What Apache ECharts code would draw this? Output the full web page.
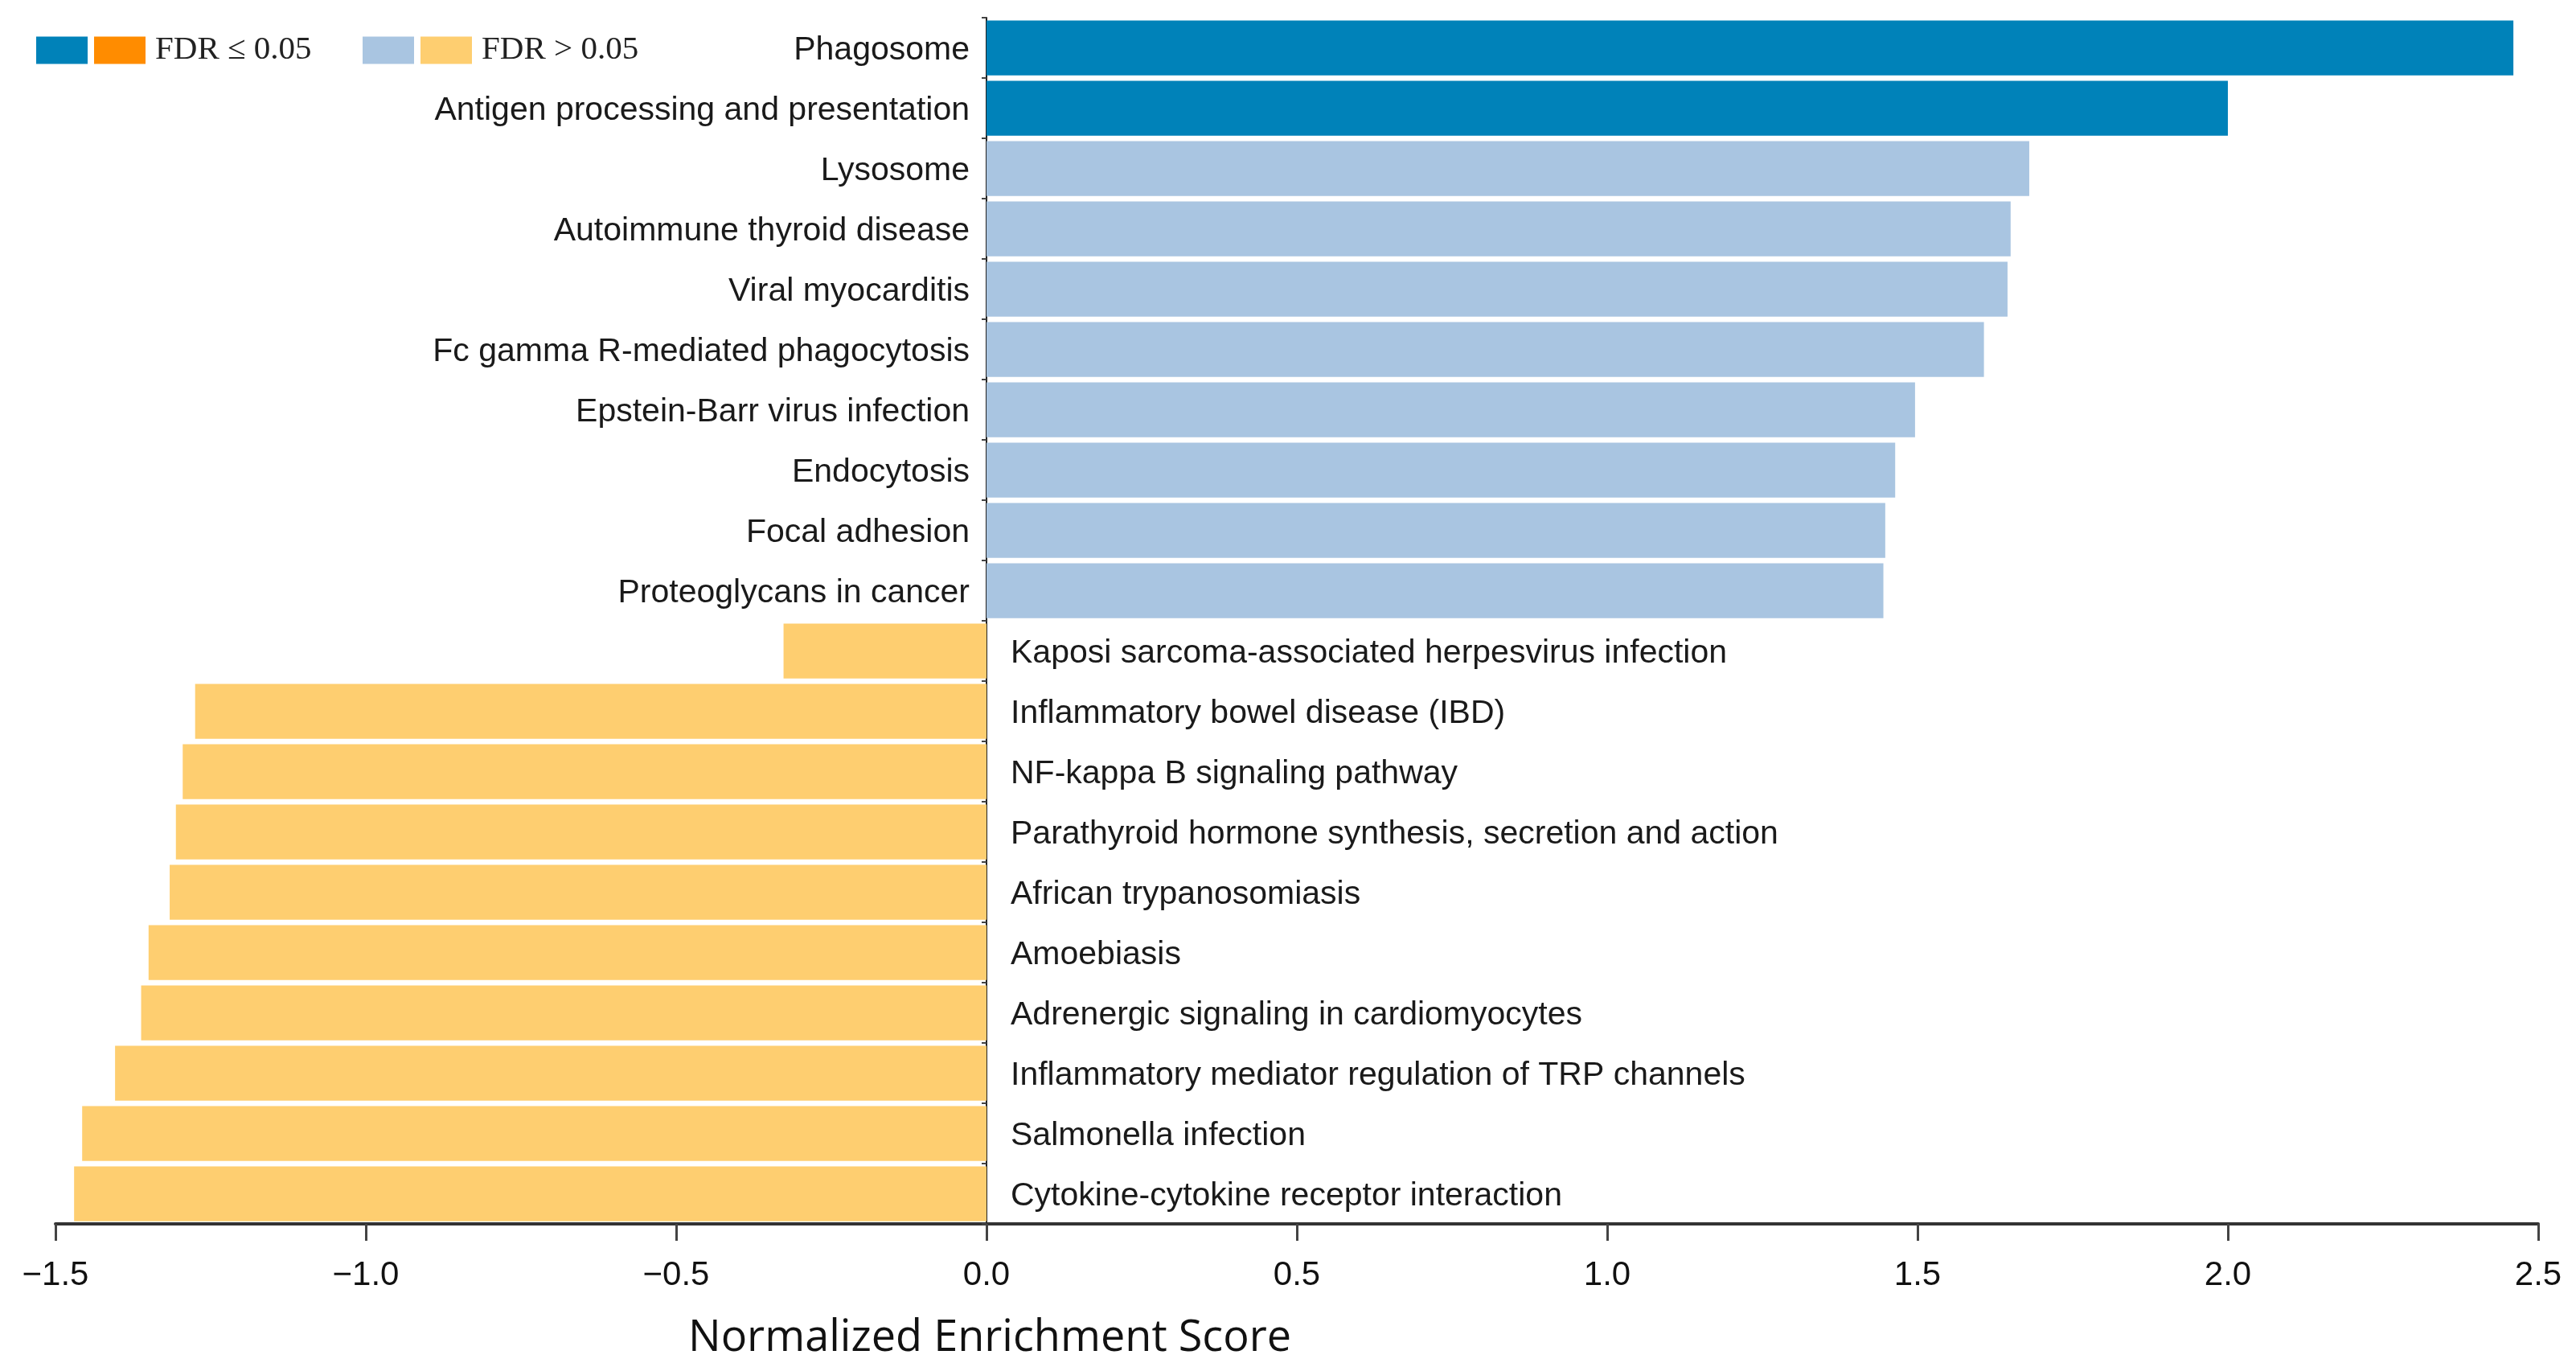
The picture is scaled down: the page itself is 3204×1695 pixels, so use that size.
<!DOCTYPE html>
<html>
<head>
<meta charset="utf-8">
<script src="https://cdn.jsdelivr.net/npm/echarts@6/dist/echarts.min.js"></script>
<style>
html,body{margin:0;padding:0;background:#fff;}
#chart{width:3204px;height:1695px;}
</style>
</head>
<body>
<div id="chart"></div>
<script>
const categories = [
  "Phagosome",
  "Antigen processing and presentation",
  "Lysosome",
  "Autoimmune thyroid disease",
  "Viral myocarditis",
  "Fc gamma R-mediated phagocytosis",
  "Epstein-Barr virus infection",
  "Endocytosis",
  "Focal adhesion",
  "Proteoglycans in cancer",
  "Kaposi sarcoma-associated herpesvirus infection",
  "Inflammatory bowel disease (IBD)",
  "NF-kappa B signaling pathway",
  "Parathyroid hormone synthesis, secretion and action",
  "African trypanosomiasis",
  "Amoebiasis",
  "Adrenergic signaling in cardiomyocytes",
  "Inflammatory mediator regulation of TRP channels",
  "Salmonella infection",
  "Cytokine-cytokine receptor interaction"
];
const nes = [2.46, 2.00, 1.68, 1.65, 1.645, 1.607, 1.496, 1.464, 1.448, 1.445,
  -0.327, -1.275, -1.295, -1.306, -1.316, -1.350, -1.362, -1.404, -1.457, -1.470];
const fdrSignificant = [true, true, false, false, false, false, false, false, false, false,
  false, false, false, false, false, false, false, false, false, false];
const xTicks = [-1.5, -1.0, -0.5, 0.0, 0.5, 1.0, 1.5, 2.0, 2.5];
const legendSig = "FDR \u2264 0.05";
const legendNs = "FDR > 0.05";

const colors = {
  sigUp: "#0082B9",
  sigDown: "#FF8C00",
  nsUp: "#A9C5E1",
  nsDown: "#FECE70"
};

function pick(sig, up) {
  return nes.map((v, i) => (fdrSignificant[i] === sig && (v > 0) === up) ? v : '-');
}

const labelBase = {
  show: true,
  formatter: '{b}',
  fontSize: 41,
  fontFamily: 'Liberation Sans, Arial, sans-serif',
  color: '#1a1a1a'
};

function makeSeries(name, data, color, up) {
  return {
    name: name,
    type: 'bar',
    stack: 'all',
    data: data,
    barCategoryGap: '9%',
    itemStyle: { color: color },
    label: Object.assign({}, labelBase, up ? { position: 'left', distance: 21, offset: [0, 3] } : { position: 'right', distance: 30, offset: [0, 3] }),
    emphasis: { disabled: true }
  };
}

const legendText = { fontFamily: 'Liberation Serif, Times New Roman, serif', fontSize: 41, color: '#222', padding: [0, 0, 0, 7] };

const chart = echarts.init(document.getElementById('chart'));
chart.setOption({
  animation: false,
  backgroundColor: '#fff',
  grid: { left: 69, right: 47, top: 22, bottom: 173, containLabel: false },
  legend: [
    {
      data: ['sigUp', legendSig],
      left: 40, top: 37,
      itemWidth: 64, itemHeight: 34, itemGap: 8,
      icon: 'rect',
      selectedMode: false,
      formatter: n => (n === 'sigUp' ? '' : n),
      textStyle: legendText
    },
    {
      data: ['nsUp', legendNs],
      left: 446, top: 37,
      itemWidth: 64, itemHeight: 34, itemGap: 8,
      icon: 'rect',
      selectedMode: false,
      formatter: n => (n === 'nsUp' ? '' : n),
      textStyle: legendText
    }
  ],
  title: {
    text: 'Normalized Enrichment Score',
    left: 1226,
    top: 1633,
    textAlign: 'center',
    textStyle: { fontFamily: 'Open Sans, sans-serif', fontSize: 54, fontWeight: 'normal', color: '#111' }
  },
  xAxis: {
    type: 'value',
    min: xTicks[0],
    max: xTicks[xTicks.length - 1],
    interval: 0.5,
    splitLine: { show: false },
    axisLine: { show: true, lineStyle: { color: '#333', width: 4 } },
    axisTick: { show: true, length: 21, lineStyle: { color: '#444', width: 3 } },
    axisLabel: {
      margin: 43,
      fontSize: 42,
      fontFamily: 'Liberation Sans, Arial, sans-serif',
      color: '#111',
      formatter: v => (v < 0 ? '\u2212' : '') + Math.abs(v).toFixed(1)
    }
  },
  yAxis: {
    type: 'category',
    inverse: true,
    data: categories,
    axisLine: { show: true, onZero: true, lineStyle: { color: '#222', width: 2 } },
    axisTick: { show: true, length: 6, lineStyle: { color: '#444', width: 2 } },
    axisLabel: { show: false },
    splitLine: { show: false }
  },
  series: [
    makeSeries('sigUp', pick(true, true), colors.sigUp, true),
    makeSeries(legendSig, pick(true, false), colors.sigDown, false),
    makeSeries('nsUp', pick(false, true), colors.nsUp, true),
    makeSeries(legendNs, pick(false, false), colors.nsDown, false)
  ]
});
</script>
</body>
</html>
